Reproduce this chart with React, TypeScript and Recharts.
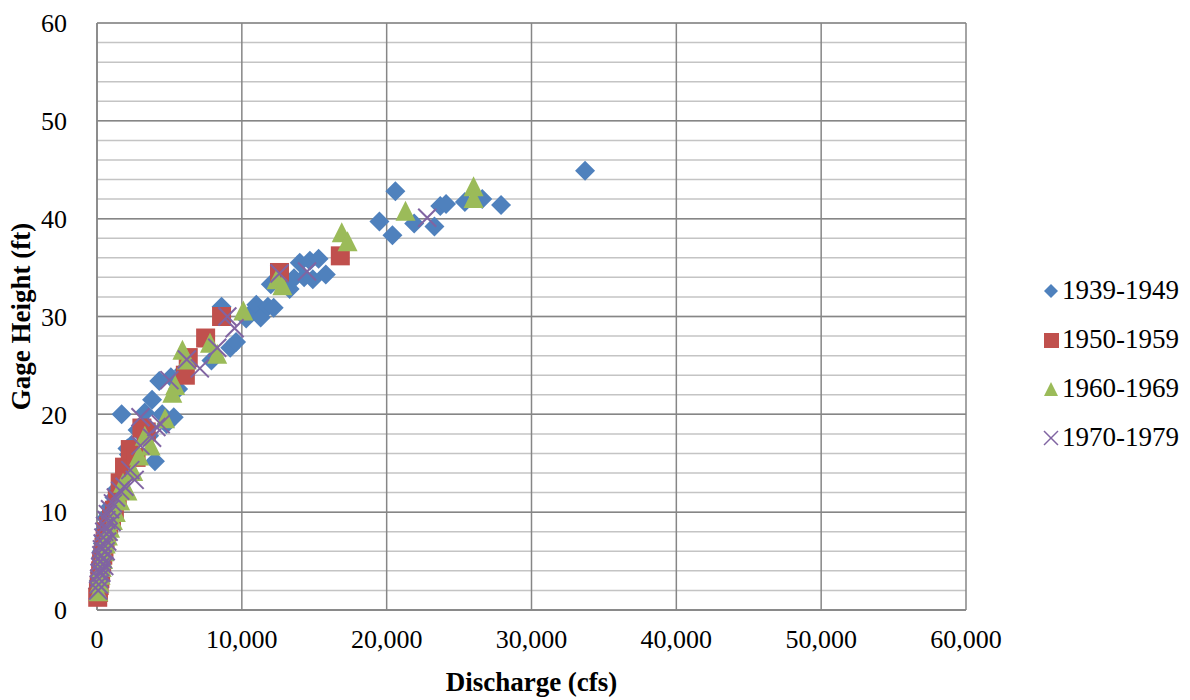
import {
  ScatterChart,
  Scatter,
  XAxis,
  YAxis,
  CartesianGrid,
} from "recharts";

// discharge (cfs), gage height (ft)
const s1939: [number, number][] = [
  [50, 2.2], [120, 3.0], [180, 3.8], [230, 4.6], [280, 5.4], [330, 6.0], [400, 6.8],
  [480, 7.5], [560, 8.3], [620, 9.4], [800, 9.8], [950, 10.6], [1200, 11.5], [1400, 12.4],
  [1700, 20.0], [2100, 16.5], [2400, 16.9], [2200, 15.9], [2800, 18.4], [3300, 20.2],
  [3600, 17.8], [3800, 21.5], [4000, 15.2], [4300, 23.4], [4500, 20.0], [4800, 19.0],
  [5100, 23.8], [5300, 19.7], [5600, 22.6], [6000, 24.5], [7900, 25.5], [8600, 31.0],
  [9200, 26.8], [9600, 27.4], [10300, 29.8], [10800, 30.6], [11000, 31.2], [11300, 29.9],
  [11800, 31.0], [12200, 30.9], [12000, 33.3], [12700, 33.4], [13300, 32.8], [13600, 33.9],
  [14000, 35.5], [14300, 34.0], [14700, 35.7], [14900, 33.8], [15300, 35.9], [15800, 34.3],
  [19500, 39.7], [20400, 38.3], [20600, 42.8], [21900, 39.5], [23300, 39.2], [23700, 41.3],
  [24100, 41.5], [25400, 41.7], [26600, 42.0], [27900, 41.4], [33700, 44.9],
];

const s1950: [number, number][] = [
  [50, 1.3], [100, 1.8], [150, 2.5], [200, 3.2], [250, 4.0], [320, 4.8], [400, 5.6],
  [480, 6.4], [560, 7.2], [650, 8.0], [800, 8.6], [1000, 9.3], [1200, 10.2], [1400, 11.3],
  [1600, 13.0], [1900, 14.6], [2300, 16.4], [2700, 15.6], [3100, 18.6], [3400, 18.2],
  [6100, 24.0], [6300, 25.8], [7500, 27.8], [8600, 30.0], [12600, 34.5], [16800, 36.2],
];

const s1960: [number, number][] = [
  [100, 1.7], [180, 2.6], [250, 3.4], [330, 4.2], [420, 5.0], [500, 5.8], [600, 6.6],
  [750, 7.4], [900, 8.2], [1100, 9.0], [1300, 9.8], [1600, 11.0], [1800, 12.8], [2100, 12.0],
  [2500, 14.0], [2900, 15.6], [3300, 17.6], [3700, 16.6], [4700, 19.4], [5200, 22.0],
  [5400, 22.8], [5900, 26.4], [6200, 25.4], [7800, 27.1], [8300, 26.0], [10100, 30.4],
  [12400, 33.6], [12800, 33.0], [16900, 38.4], [17300, 37.5], [21300, 40.6], [26000, 43.1],
  [26000, 41.9],
];

const s1970: [number, number][] = [
  [80, 2.0], [120, 2.6], [150, 3.2], [180, 3.8], [220, 4.4], [260, 5.0], [300, 5.6],
  [340, 6.2], [390, 6.8], [440, 7.4], [500, 8.0], [560, 8.6], [650, 9.2], [750, 9.8],
  [300, 3.8], [500, 4.5], [400, 5.2], [600, 6.0], [700, 7.0], [800, 8.0], [1000, 9.0],
  [900, 10.3], [1100, 10.9], [1300, 11.5], [1600, 12.2], [1900, 12.6], [2300, 14.3],
  [2600, 13.3], [3000, 19.7], [3000, 16.8], [3800, 17.6], [4100, 18.7], [4400, 19.0],
  [5000, 23.5], [6200, 25.6], [7100, 24.7], [8300, 26.8], [9000, 30.0], [9500, 28.8],
  [12600, 34.4], [14500, 34.6], [22800, 40.1],
];

const seriesNames = ["1939-1949", "1950-1959", "1960-1969", "1970-1979"];
const xTicks = [0, 10000, 20000, 30000, 40000, 50000, 60000];
const yTicks = [0, 10, 20, 30, 40, 50, 60];
const yMinor = [0, 2, 4, 6, 8, 10, 12, 14, 16, 18, 20, 22, 24, 26, 28, 30, 32, 34, 36, 38, 40, 42, 44, 46, 48, 50, 52, 54, 56, 58, 60];

const BLUE = "#4F81BD";
const RED = "#C0504D";
const GREEN = "#9BBB59";
const PURPLE = "#8064A2";
const FONT = "'Liberation Serif', serif";

const toPts = (arr: [number, number][]) => arr.map(([x, y]) => ({ x, y }));

const Diamond = ({ cx, cy }: any) => (
  <polygon points={`${cx},${cy - 10} ${cx + 10},${cy} ${cx},${cy + 10} ${cx - 10},${cy}`} fill={BLUE} />
);
const Square = ({ cx, cy }: any) => (
  <rect x={cx - 9.5} y={cy - 9.5} width={19} height={19} fill={RED} />
);
const Triangle = ({ cx, cy }: any) => (
  <polygon points={`${cx},${cy - 12} ${cx + 10},${cy + 8} ${cx - 10},${cy + 8}`} fill={GREEN} />
);
const Cross = ({ cx, cy }: any) => (
  <g stroke={PURPLE} strokeWidth={2}>
    <line x1={cx - 9} y1={cy - 9} x2={cx + 9} y2={cy + 9} />
    <line x1={cx - 9} y1={cy + 9} x2={cx + 9} y2={cy - 9} />
  </g>
);

const legendIcons = [
  <polygon key="d" points="8,1 15,8 8,15 1,8" fill={BLUE} />,
  <rect key="s" x={1} y={1} width={15} height={15} fill={RED} />,
  <polygon key="t" points="8,1 15,15 1,15" fill={GREEN} />,
  <g key="x" stroke={PURPLE} strokeWidth={1.5}>
    <line x1={1} y1={1} x2={15} y2={15} />
    <line x1={1} y1={15} x2={15} y2={1} />
  </g>,
];

function LegendBox() {
  return (
    <div
      style={{
        position: "absolute",
        left: 1043,
        top: 266,
        fontFamily: FONT,
        fontSize: 27,
        color: "#000",
      }}
    >
      {seriesNames.map((name, i) => (
        <div key={name} style={{ display: "flex", alignItems: "center", height: 49 }}>
          <svg width={16} height={16} style={{ marginRight: 3 }}>
            {legendIcons[i]}
          </svg>
          <span>{name}</span>
        </div>
      ))}
    </div>
  );
}

export default function App() {
  return (
    <div style={{ position: "absolute", left: 0, top: 0, width: 1190, height: 700, background: "#fff" }}>
      <ScatterChart
        width={1190}
        height={700}
        margin={{ top: 23, right: 224, bottom: 30, left: 0 }}
      >
        <CartesianGrid
          horizontalValues={yMinor}
          vertical={false}
          stroke="#c4c4c4"
          strokeWidth={1.5}
        />
        <CartesianGrid
          horizontalValues={yTicks}
          verticalValues={xTicks}
          stroke="#868686"
          strokeWidth={1.5}
        />
        <XAxis
          type="number"
          dataKey="x"
          domain={[0, 60000]}
          ticks={xTicks}
          height={60}
          tickFormatter={(v: number) => v.toLocaleString("en-US")}
          tickLine={false}
          axisLine={{ stroke: "#868686", strokeWidth: 1.5 }}
          tick={{ fill: "#000", fontSize: 26, fontFamily: FONT }}
          tickMargin={14}
          interval={0}
          label={{
            value: "Discharge (cfs)",
            position: "bottom",
            offset: 2,
            style: { fill: "#000", fontSize: 27, fontWeight: "bold", fontFamily: FONT },
          }}
        />
        <YAxis
          type="number"
          dataKey="y"
          domain={[0, 60]}
          ticks={yTicks}
          width={97}
          tickLine={false}
          axisLine={{ stroke: "#868686", strokeWidth: 1.5 }}
          tick={{ fill: "#000", fontSize: 26, fontFamily: FONT }}
          tickMargin={24}
          interval={0}
          label={{
            value: "Gage Height (ft)",
            angle: -90,
            position: "insideLeft",
            offset: 20,
            style: { fill: "#000", fontSize: 27, fontWeight: "bold", fontFamily: FONT, textAnchor: "middle" },
          }}
        />
        <Scatter name={seriesNames[0]} data={toPts(s1939)} shape={Diamond} isAnimationActive={false} />
        <Scatter name={seriesNames[1]} data={toPts(s1950)} shape={Square} isAnimationActive={false} />
        <Scatter name={seriesNames[2]} data={toPts(s1960)} shape={Triangle} isAnimationActive={false} />
        <Scatter name={seriesNames[3]} data={toPts(s1970)} shape={Cross} isAnimationActive={false} />
      </ScatterChart>
      <LegendBox />
    </div>
  );
}
